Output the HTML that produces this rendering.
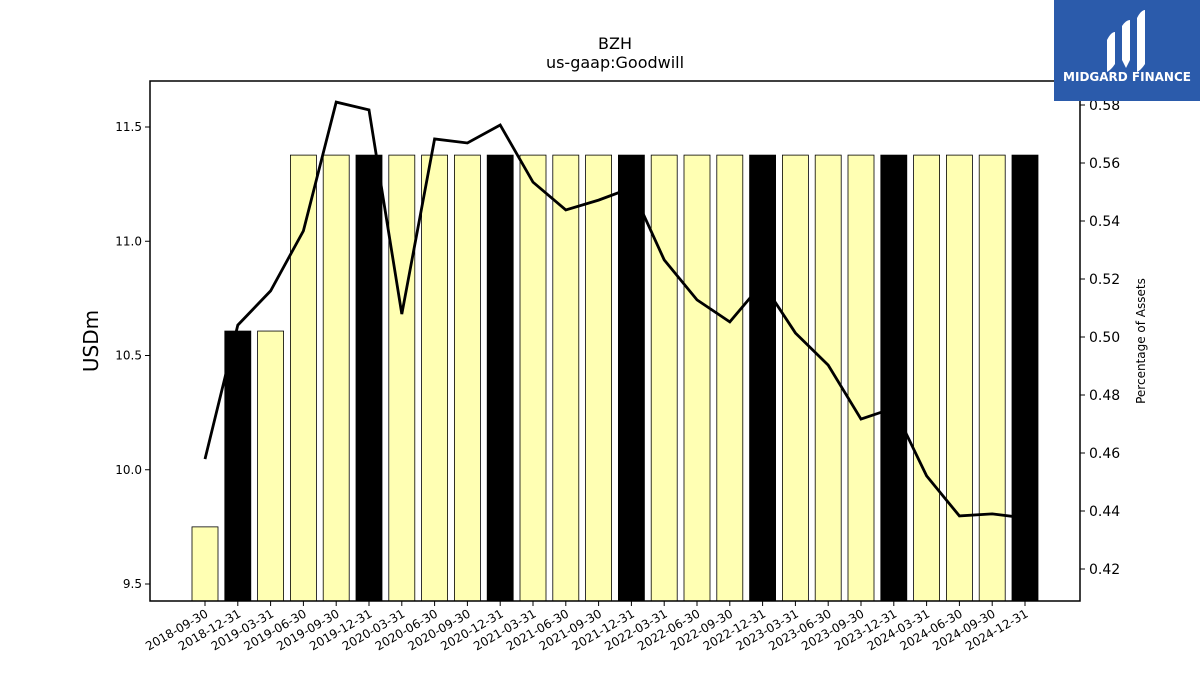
<!DOCTYPE html>
<html><head><meta charset="utf-8"><style>body{margin:0;background:#fff}svg{display:block;font-family:"DejaVu Sans","Liberation Sans",sans-serif}</style></head>
<body>
<svg id="c" width="1200" height="675">
<text x="615" y="49" font-size="16" text-anchor="middle">BZH</text>
<text x="615" y="68" font-size="16" text-anchor="middle">us-gaap:Goodwill</text>
<text x="98" y="341" font-size="20" text-anchor="middle" transform="rotate(-90 98 341)">USDm</text>
<text x="1145" y="341" font-size="12" text-anchor="middle" transform="rotate(-90 1145 341)">Percentage of Assets</text>
<g id="bars"></g><g id="ticks"></g>
<path id="line" fill="none" stroke="#000" stroke-width="2.8"/>
<rect x="150" y="81" width="930" height="520" fill="none" stroke="#000" stroke-width="1.5"/>
<g>
<rect x="1054" y="0" width="146" height="101" fill="#2b5bab"/>
<path d="M1107 40 q4-8 8-8 v32 q-4 6-8 8z M1122 26 q4-6 8-6 v40 l-4 8 -4-8z M1137 18 q4-8 8-8 v54 q-4 6-8 8z" fill="#fff"/>
<text x="1127" y="81" font-size="12" font-weight="bold" fill="#fff" text-anchor="middle">MIDGARD FINANCE</text>
</g>
</svg>
<script>
const categories=["2018-09-30","2018-12-31","2019-03-31","2019-06-30","2019-09-30","2019-12-31","2020-03-31","2020-06-30","2020-09-30","2020-12-31","2021-03-31","2021-06-30","2021-09-30","2021-12-31","2022-03-31","2022-06-30","2022-09-30","2022-12-31","2023-03-31","2023-06-30","2023-09-30","2023-12-31","2024-03-31","2024-06-30","2024-09-30","2024-12-31"];
const goodwill=[9.75,10.607,10.607,11.377,11.377,11.377,11.377,11.377,11.377,11.377,11.377,11.377,11.377,11.377,11.377,11.377,11.377,11.377,11.377,11.377,11.377,11.377,11.377,11.377,11.377,11.377];
const pctAssets=[0.4579,0.5041,0.5159,0.5366,0.581,0.5783,0.5079,0.5683,0.5669,0.5731,0.5534,0.5438,0.5472,0.5514,0.5266,0.5128,0.5052,0.5186,0.5014,0.4903,0.4717,0.4755,0.4521,0.4383,0.4390,0.4376];
const leftTicks=[9.5,10.0,10.5,11.0,11.5];
const rightTicks=[0.42,0.44,0.46,0.48,0.50,0.52,0.54,0.56,0.58];
const NS="http://www.w3.org/2000/svg";
const x=i=>205+i*32.8;
const yL=v=>584-(v-9.5)*228.5;
const yR=v=>105+(0.58-v)*2900;
function mk(t,a,p){const e=document.createElementNS(NS,t);for(const k in a)e.setAttribute(k,a[k]);p.appendChild(e);return e;}
const bars=document.getElementById('bars'),ticks=document.getElementById('ticks');
categories.forEach((c,i)=>{
 const q4=c.endsWith('12-31');
 const b=mk('rect',{x:x(i)-13,y:yL(goodwill[i]),width:26,height:601-yL(goodwill[i]),fill:q4?'#000':'#ffffb3',stroke:'#000','stroke-width':0.8},bars);
 
 
 mk('line',{x1:x(i),x2:x(i),y1:601,y2:606,stroke:'#000'},ticks);
 const t=mk('text',{x:x(i)+4,y:616,'font-size':12,'text-anchor':'end',transform:`rotate(-30 ${x(i)+4} 616)`},ticks);
 t.textContent=c;
 
 
});
leftTicks.forEach(v=>{
 mk('line',{x1:145,x2:150,y1:yL(v),y2:yL(v),stroke:'#000'},ticks);
 const t=mk('text',{x:142,y:yL(v)+4,'font-size':12,'text-anchor':'end'},ticks);
 t.textContent=v.toFixed(1);
 
 
});
rightTicks.forEach(v=>{
 mk('line',{x1:1080,x2:1085,y1:yR(v),y2:yR(v),stroke:'#000'},ticks);
 const t=mk('text',{x:1089,y:yR(v)+5,'font-size':14},ticks);
 t.textContent=v.toFixed(2);
 
 
});
document.getElementById('line').setAttribute('d',pctAssets.map((v,i)=>(i?'L':'M')+x(i)+' '+yR(v)).join(' '));
</script>
</body></html>
